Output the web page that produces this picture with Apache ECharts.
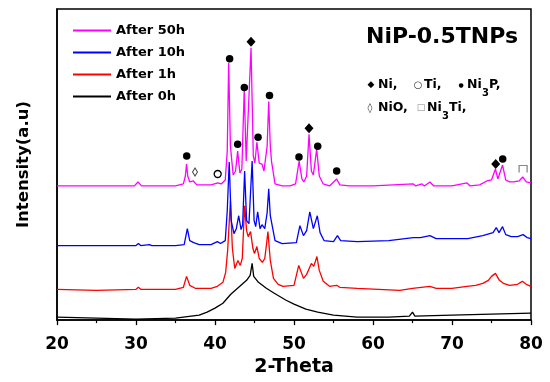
<!DOCTYPE html>
<html>
<head>
<meta charset="utf-8">
<script src="https://cdn.jsdelivr.net/npm/echarts@6/dist/echarts.min.js"></script>
<style>html,body{margin:0;padding:0;background:#fff}#c{width:550px;height:382px}</style>
</head>
<body>
<div id="c"></div>
<script>
// ---- data (2-Theta, intensity in arbitrary units with stacking offset) ----
const theta50 = [20,25,29.8,30.25,30.7,31.4,31.65,32,35,36.0,36.25,36.4,36.55,36.8,37.25,37.7,39.5,40.35,40.8,41.3,41.55,41.73,41.95,42.3,42.6,42.87,43.15,43.4,43.7,43.95,44.2,44.56,44.85,45.05,45.3,45.6,45.95,46.2,46.6,46.8,47.0,47.15,47.6,48.5,49.5,50.2,50.65,51.0,51.25,51.6,51.9,52.2,52.45,52.87,53.2,53.7,54.5,55.4,55.8,57,60,65.1,65.4,66.2,66.5,67.2,67.7,70,71.9,72.3,73.5,74.4,75.0,75.5,75.8,76.0,76.4,76.8,77.3,77.8,78.5,78.95,79.4,80];
const int50   = [135,135,135,139,135,135,137,135,135,137,145,157,145,139,140,136,136,138,137,141,170,259,175,146,150,170,148,152,232,160,158,274,165,158,179,158,157,150,175,220,175,160,137,135,135,137,160,142,139,145,187,150,146,172,145,137,135,142,136,135,135,137,135,137,135,139,135,135,138,135,136,140,141,152,142,142,156,141,139,139,140,144,139,138];

const theta10 = [20,25,30.0,30.3,30.6,31.7,32,35,36.1,36.5,36.8,37.3,38,39.5,40.3,40.7,41.3,41.55,41.8,42.05,42.4,42.7,43.0,43.3,43.5,43.75,44.0,44.3,44.7,44.95,45.15,45.4,45.7,45.95,46.3,46.6,46.8,47.0,47.6,48.5,50.3,50.75,51.2,51.6,52.0,52.45,52.95,53.3,53.8,55.0,55.5,55.9,58,62,65.1,66,67.2,68,72,73.9,75.2,75.6,75.95,76.4,76.8,77.5,78.3,79.0,79.5,80];
const int10   = [75,75,75,77,75,76,75,75,76,92,80,78,76,76,79,77,80,110,159,100,87,92,105,91,96,150,100,97,160,100,94,109,92,96,92,108,132,105,80,77,78,95,85,90,109,92,105,88,80,79,85,80,79,80,83,83,85,82,82,85,88,93,88,94,86,84,84,86,83,82];

const theta1 = [20,25,30.0,30.3,30.6,31.7,35,36.0,36.4,36.8,37.5,39.5,40.3,41.0,41.35,41.6,41.95,42.2,42.5,42.9,43.2,43.45,43.75,44.0,44.2,44.5,44.8,45.0,45.3,45.6,46.0,46.3,46.5,46.7,47.0,47.4,48.0,48.6,50.0,50.6,51.2,51.6,52.2,52.5,52.9,53.2,53.7,54.5,55.4,55.8,58,63.4,65,67.2,68,70,71.9,73.0,73.9,74.6,75.0,75.5,76.0,76.5,77.3,78.3,78.9,79.4,80];
const int1   = [31,30,31,33,31,31,31,33,44,35,32,32,34,38,48,70,120,72,52,60,55,62,115,90,84,89,72,67,74,62,58,62,75,89,60,42,36,34,35,55,42,46,57,54,64,50,39,34,35,33,32,30,32,34,32,32,34,35,37,40,44,47,40,37,35,36,39,36,34];

const theta0 = [20,25,30,35,37,38,39,40,41,42,43,44,44.45,44.7,44.9,45.5,46.5,47.5,49,50,51.5,53,55,58,62,64.6,65.0,65.3,70,75,80];
const int0   = [3,2,1,2,4,5,8,12,17,26,33,40,45,57,44,38,32,27,20,16,11,8,5,3,3,4,8,4,5,6,7];

// phase markers (peak position, height)
const ni3pX = [36.42,41.85,42.87,43.71,45.45,46.9,50.63,53.0,55.4,76.42];
const ni3pY = [165,263,177,234,184,226,164,175,150,162];
const niX = [44.56,51.9,75.53];
const niY = [280,193,157];
const nioX = [37.47]; const nioY = [149];
const tiX = [40.34];  const tiY = [147];
const ni3tiX = [79.0]; const ni3tiY = [152];

const seriesNames = ['After 50h','After 10h','After 1h','After 0h'];
const xTicks = [20,30,40,50,60,70,80];

const zip = (a,b) => a.map((v,i)=>[v,b[i]]);
const F = 'DejaVu Sans';

const chart = echarts.init(document.getElementById('c'), null, {renderer:'canvas'});
const lineS = (name, xs, ys, color) => ({
  name, type:'line', data: zip(xs,ys), showSymbol:false, symbol:'none',
  lineStyle:{color, width:1.3}, itemStyle:{color}, animation:false
});
const markS = (xs, ys, symbol, size, style) => ({
  type:'scatter', data: zip(xs,ys), symbol, symbolSize:size, itemStyle:Object.assign({opacity:1}, style), z:5, animation:false, silent:true
});
function txt(text, x, y, size, opts) {
  return {type:'text', x, y, style:Object.assign({text, fontFamily:F, fontSize:size, fontWeight:'bold', fill:'#000', verticalAlign:'middle', align:'left'}, opts||{})};
}

chart.setOption({
  animation:false,
  backgroundColor:'#fff',
  grid:{left:57, right:19, top:9, bottom:60, containLabel:false, show:true, borderColor:'#000', borderWidth:1.5},
  legend:{
    data: seriesNames, orient:'vertical', left:68, top:18, icon:'rect', itemWidth:38, itemHeight:2, itemGap:7,
    textStyle:{fontFamily:F, fontWeight:'bold', fontSize:13, color:'#000', lineHeight:15}
  },
  xAxis:{
    type:'value', min:20, max:80, interval:10,
    name:'2-Theta', nameLocation:'middle', nameGap:37,
    nameTextStyle:{fontFamily:F, fontWeight:'bold', fontSize:19, color:'#000'},
    axisLine:{lineStyle:{color:'#000', width:1.5}},
    axisTick:{show:true, inside:false, length:5, lineStyle:{color:'#000', width:1.3}},
    minorTick:{show:true, splitNumber:2, length:3, lineStyle:{color:'#000', width:1.2}},
    axisLabel:{fontFamily:F, fontWeight:'bold', fontSize:17, color:'#000', margin:16,
      formatter: v => xTicks.includes(v) ? String(v) : ''},
    splitLine:{show:false}
  },
  yAxis:{
    type:'value', min:0, max:313,
    name:'Intensity(a.u)', nameLocation:'middle', nameGap:25,
    nameTextStyle:{fontFamily:F, fontWeight:'bold', fontSize:16.5, color:'#000'},
    axisLine:{show:true, lineStyle:{color:'#000', width:1.5}},
    axisTick:{show:false}, axisLabel:{show:false}, splitLine:{show:false}
  },
  series:[
    lineS('After 0h', theta0, int0, '#000000'),
    lineS('After 1h', theta1, int1, '#ff0000'),
    lineS('After 10h', theta10, int10, '#0000ff'),
    lineS('After 50h', theta50, int50, '#ff00ff'),
    markS(ni3pX, ni3pY, 'circle', 7.5, {color:'#000'}),
    markS(niX, niY, 'diamond', [9,10], {color:'#000'}),
    markS(nioX, nioY, 'diamond', [5,8], {color:'#fff', borderColor:'#444', borderWidth:1}),
    markS(tiX, tiY, 'circle', 7, {color:'#fff', borderColor:'#000', borderWidth:1.3}),
    markS(ni3tiX, ni3tiY, 'path://M0,10L0,0L10,0L10,10', [8,7], {color:'none', borderColor:'#888', borderWidth:1.2})
  ],
  graphic:[
    txt('NiP-0.5TNPs', 442, 37, 22, {align:'center'}),
    txt('◆', 371, 85, 9, {align:'center'}),
    txt('Ni,', 378, 85, 12.5),
    txt('○', 418, 85, 10, {align:'center', fontWeight:'normal', fill:'#333'}),
    txt('Ti,', 424, 85, 12.5),
    txt('●', 461, 85, 6, {align:'center'}),
    txt('Ni', 467, 85, 12.5),
    txt('3', 482, 93, 10),
    txt('P,', 489, 85, 12.5),
    txt('◊', 370, 108, 10, {align:'center', fontWeight:'normal', fill:'#333'}),
    txt('NiO,', 378, 108, 12.5),
    txt('□', 421, 108, 9, {align:'center', fontWeight:'normal', fill:'#888'}),
    txt('Ni', 427, 108, 12.5),
    txt('3', 442, 116, 10),
    txt('Ti,', 449, 108, 12.5)
  ]
});
</script>
</body>
</html>
